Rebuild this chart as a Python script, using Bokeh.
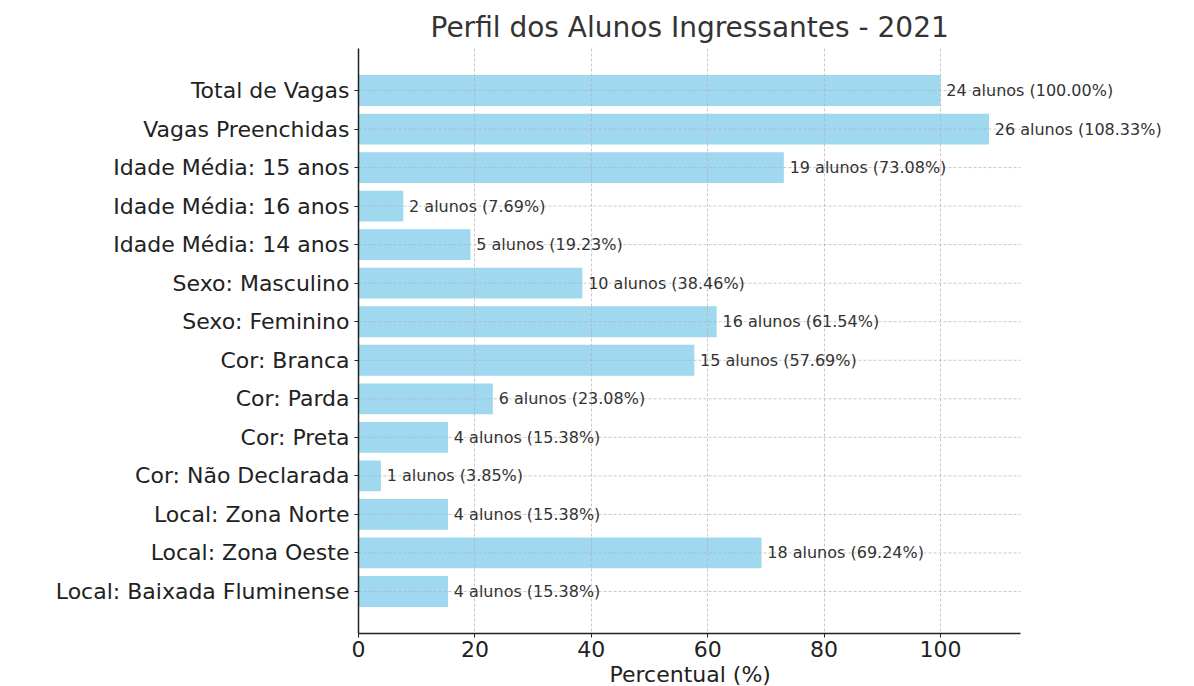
from bokeh.plotting import figure
from bokeh.models import ColumnDataSource, Range1d, FixedTicker, LabelSet, Title
from bokeh.core.properties import value
from bokeh.embed import file_html
from bokeh.resources import INLINE

categories = [
    "Total de Vagas",
    "Vagas Preenchidas",
    "Idade Média: 15 anos",
    "Idade Média: 16 anos",
    "Idade Média: 14 anos",
    "Sexo: Masculino",
    "Sexo: Feminino",
    "Cor: Branca",
    "Cor: Parda",
    "Cor: Preta",
    "Cor: Não Declarada",
    "Local: Zona Norte",
    "Local: Zona Oeste",
    "Local: Baixada Fluminense",
]
alunos = [24, 26, 19, 2, 5, 10, 16, 15, 6, 4, 1, 4, 18, 4]
percentual = [100.00, 108.33, 73.08, 7.69, 19.23, 38.46, 61.54, 57.69, 23.08, 15.38, 3.85, 15.38, 69.24, 15.38]
x_ticks = [0, 20, 40, 60, 80, 100]

FONT = "DejaVu Sans"
n = len(categories)
pos = list(range(n))
labels = [f"{a} alunos ({p:.2f}%)" for a, p in zip(alunos, percentual)]

# axis extent (matplotlib-like 5% margin)
xmax = max(percentual) * 1.05
W, H = 1194, 686
left_px, axis_right_px = 358, 1020
# the frame reaches the figure edge so labels past the axis end are not clipped
xmax_frame = xmax * (W - left_px) / (axis_right_px - left_px)

src = ColumnDataSource(dict(y=pos, pct=percentual, lab=labels,
                            lx=[p + 1.0 for p in percentual],
                            gx0=[0] * n, gx1=[xmax] * n))

span = (n - 1) + 0.8
p = figure(width=W, height=H, output_backend="svg", toolbar_location=None,
           x_range=Range1d(0, xmax_frame),
           y_range=Range1d(n - 1 + 0.4 + 0.05 * span, -0.4 - 0.05 * span),
           min_border_left=left_px, min_border_right=0, min_border_top=48,
           min_border_bottom=0)

p.hbar(y="y", left=0, right="pct", height=0.8, source=src,
       fill_color="skyblue", fill_alpha=0.8, line_color=None)
# horizontal grid lines limited to the axis extent
p.segment(x0="gx0", x1="gx1", y0="y", y1="y", source=src,
          line_color="#b0b0b0", line_alpha=0.7, line_dash="3 2", line_width=1)
p.add_layout(LabelSet(x="lx", y="y", text="lab", source=src,
                      text_baseline="middle", text_align="left",
                      text_font=value(FONT), text_font_size="16px",
                      text_color="#333333"))

p.title.text = "Perfil dos Alunos Ingressantes - 2021"
p.title.align = "left"
p.title.offset = 72
p.title.text_font = FONT
p.title.text_font_size = "28px"
p.title.text_font_style = "normal"
p.title.text_color = "#333333"

# x-axis label centred under the axis extent (not the extended frame)
xlabel = Title(text="Percentual (%)", align="left", offset=251,
               text_font=FONT, text_font_size="22px", text_font_style="normal",
               text_color="#222222", standoff=0)
p.add_layout(xlabel, "below")

p.outline_line_color = None

p.yaxis.ticker = FixedTicker(ticks=pos)
p.yaxis.major_label_overrides = {i: c for i, c in enumerate(categories)}
p.xaxis.ticker = FixedTicker(ticks=x_ticks)
p.xaxis.bounds = (0, xmax)
p.xaxis.major_label_standoff = 3

for ax in (p.xaxis, p.yaxis):
    ax.axis_line_color = "#222222"
    ax.axis_line_width = 1.5
    ax.major_tick_line_color = "#222222"
    ax.major_tick_in = 0
    ax.major_tick_out = 4
    ax.minor_tick_line_color = None
    ax.major_label_text_font = FONT
    ax.major_label_text_font_size = "22px"
    ax.major_label_text_color = "#222222"

p.ygrid.grid_line_color = None
p.xgrid.grid_line_color = "#b0b0b0"
p.xgrid.grid_line_alpha = 0.7
p.xgrid.grid_line_dash = "3 2"
p.xgrid.grid_line_width = 1
p.xgrid.level = "guide"

open("out.html", "w").write(file_html(p, INLINE))
